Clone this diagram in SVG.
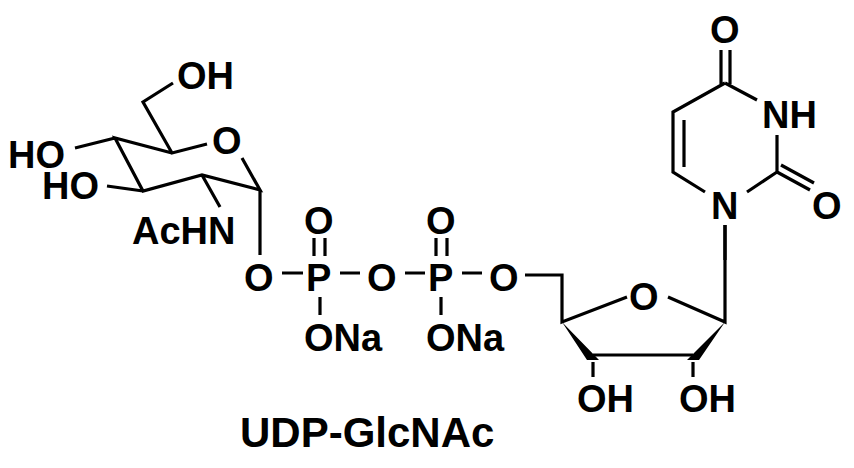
<svg xmlns="http://www.w3.org/2000/svg" width="854" height="468" viewBox="0 0 854 468">
<style>
.b{stroke:#000;stroke-width:3.2;fill:none;stroke-linecap:butt}
.t{font-family:"Liberation Sans",Arial,sans-serif;font-weight:bold;font-size:38px;fill:#000}
.c{font-family:"Liberation Sans",Arial,sans-serif;font-weight:bold;font-size:42px;fill:#000}
</style>
<rect width="854" height="468" fill="#fff"/>
<g id="bonds">
<path class="b" d="M173,83 L143,102 L172,153 L207,144 M242,158 L260,190 L202,175 L143,191 L115,138 L172,153 M115,138 L75,148 M143,191 L107,186 M202,175 L220,207 M260,190 L260,255"/>
<path class="b" d="M282,273 H303 M340,273 H360 M405,273 H425 M462,273 H482 M525,275 H562 V322 L627,297 M668,297 L725,322 V225"/>
<path class="b" d="M314,238 V256 M325,238 V256 M320,297 V315 M436,238 V256 M447,238 V256 M441,297 V315"/>
<path class="b" d="M593,362 V377 M693,362 V377"/>
<path d="M562,322 L587,360 L599,360 Z M725,322 L687,360 L699,360 Z" fill="#000"/>
<path class="b" d="M593,355 H693" stroke-width="8"/>
<path class="b" d="M721,50 V84 M730,50 V84 M725,83 L673,112 V172 L705,192 M684,120 V167 M725,83 L757,100 M777,135 V172 L747,192 M777,172 L810,190 M781,165 L814,183 M725,225 V260"/>
</g>
<g id="labels">
<text class="t" x="177" y="89">OH</text>
<text class="t" x="212" y="154">O</text>
<text class="t" x="8" y="168">HO</text>
<text class="t" x="42" y="199">HO</text>
<text class="t" x="132" y="244">AcHN</text>
<text class="t" x="244" y="291">O</text>
<text class="t" x="306" y="291">P</text>
<text class="t" x="367" y="291">O</text>
<text class="t" x="428" y="291">P</text>
<text class="t" x="489" y="291">O</text>
<text class="t" x="304" y="234">O</text>
<text class="t" x="426" y="234">O</text>
<text class="t" x="304" y="351">ONa</text>
<text class="t" x="426" y="351">ONa</text>
<text class="t" x="629" y="310">O</text>
<text class="t" x="577" y="412">OH</text>
<text class="t" x="679" y="412">OH</text>
<text class="t" x="710" y="43">O</text>
<text class="t" x="762" y="128">NH</text>
<text class="t" x="812" y="219">O</text>
<text class="t" x="711" y="219">N</text>
<text class="c" x="240" y="447">UDP-GlcNAc</text>
</g>
</svg>
